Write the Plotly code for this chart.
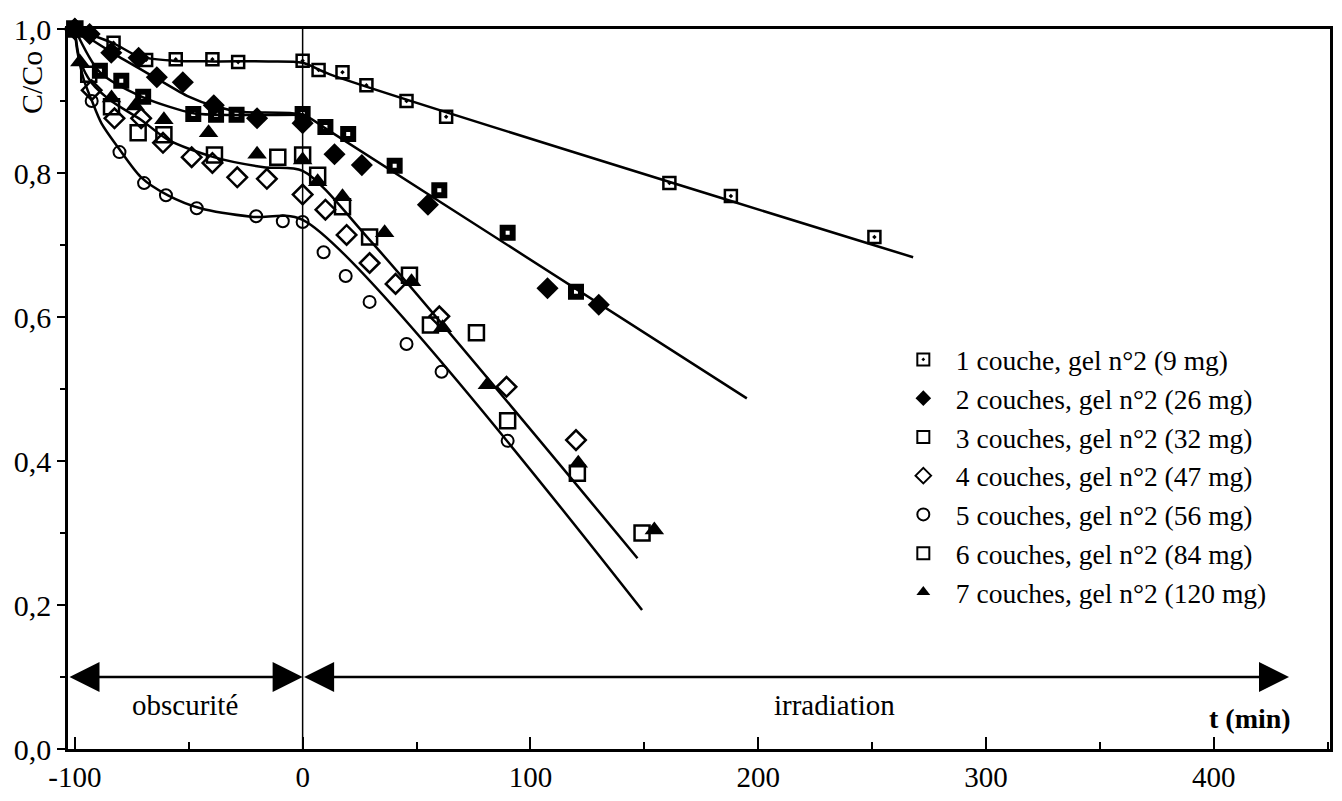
import plotly.graph_objects as go

# ---------------- data ----------------
s1_t = [-100, -83, -68.7, -55.7, -39.6, -28.3, 0, 7, 17.5, 28, 45.6, 63, 161, 188, 251]
s1_c = [1.0, 0.981, 0.957, 0.958, 0.958, 0.954, 0.956, 0.943, 0.940, 0.922, 0.900, 0.878, 0.786, 0.768, 0.711]

s2_t = [-100, -93.5, -84, -72, -64, -52.6, -39, -20, 0, 14, 26, 55, 107.5, 130]
s2_c = [1.0, 0.993, 0.967, 0.960, 0.933, 0.926, 0.894, 0.876, 0.869, 0.826, 0.811, 0.756, 0.640, 0.617]

s3_t = [-100, -89, -79.6, -70, -48, -38, -29, 0, 10, 20, 40.4, 60, 90, 120]
s3_c = [1.0, 0.942, 0.928, 0.906, 0.882, 0.881, 0.881, 0.882, 0.864, 0.854, 0.810, 0.776, 0.717, 0.635]

s4_t = [-100, -92.6, -82.6, -70.9, -61.3, -48.7, -39.6, -28.7, -15.7, 0, 10, 19.3, 29.4, 40.8, 60, 89.5, 120]
s4_c = [1.0, 0.915, 0.876, 0.876, 0.842, 0.822, 0.814, 0.794, 0.792, 0.770, 0.749, 0.714, 0.675, 0.646, 0.601, 0.503, 0.429]

s5_t = [-100, -92.6, -80.4, -69.6, -60, -46.5, -20.4, -8.7, 0, 9.2, 18.9, 29.4, 45.6, 61, 90]
s5_c = [1.0, 0.900, 0.829, 0.786, 0.769, 0.751, 0.740, 0.733, 0.732, 0.690, 0.657, 0.621, 0.5625, 0.524, 0.428]

s6_t = [-100, -93.9, -83.9, -72.2, -60.9, -38.7, -10.9, 0, 6.6, 17.5, 29.4, 46.9, 56.1, 76.3, 90, 120.6, 149]
s6_c = [1.0, 0.937, 0.892, 0.856, 0.853, 0.825, 0.822, 0.825, 0.797, 0.753, 0.711, 0.658, 0.589, 0.578, 0.456, 0.383, 0.300]

s7_t = [-100, -97.8, -83.9, -73.5, -60.9, -41.3, -20, 0, 6.6, 17.5, 36, 47.8, 61.4, 81.1, 121, 154.4]
s7_c = [1.0, 0.954, 0.904, 0.893, 0.874, 0.856, 0.826, 0.818, 0.788, 0.767, 0.717, 0.649, 0.585, 0.506, 0.397, 0.304]

# fitted curves (knots)
fitA_t = [-100, -83, -72, -57, -39, -15, 0, 12, 268]
fitA_c = [1.0, 0.980, 0.962, 0.956, 0.955, 0.955, 0.953, 0.937, 0.683]

fitB_t = [-100, -82, -65, -50, -39, -27, 0, 10, 195]
fitB_c = [1.0, 0.964, 0.933, 0.906, 0.893, 0.885, 0.881, 0.862, 0.487]

fitC_t = [-100, -89, -70, -48, -38, 0]
fitC_c = [1.0, 0.940, 0.905, 0.883, 0.881, 0.881]

fitD_t = [-100, -97.8, -92.6, -84, -71, -59, -39, -17, 0, 30, 147]
fitD_c = [1.0, 0.957, 0.925, 0.900, 0.874, 0.846, 0.822, 0.808, 0.803, 0.705, 0.265]

fitE_t = [-100, -99, -96, -92.6, -88.3, -80.9, -70.9, -59.1, -44.8, -21.7, 0, 149]
fitE_c = [1.0, 0.971, 0.929, 0.901, 0.869, 0.835, 0.794, 0.769, 0.751, 0.739, 0.735, 0.193]

labels = [
    "1 couche, gel n°2 (9 mg)",
    "2 couches, gel n°2 (26 mg)",
    "3 couches, gel n°2 (32 mg)",
    "4 couches, gel n°2 (47 mg)",
    "5 couches, gel n°2 (56 mg)",
    "6 couches, gel n°2 (84 mg)",
    "7 couches, gel n°2 (120 mg)",
]

x_ticks = [-100, 0, 100, 200, 300, 400]
y_ticks = [0.0, 0.2, 0.4, 0.6, 0.8, 1.0]

# ---------------- figure ----------------
FONT = "Liberation Serif, Times New Roman, serif"
fig = go.Figure()

for ft, fc in [(fitA_t, fitA_c), (fitB_t, fitB_c), (fitC_t, fitC_c), (fitD_t, fitD_c), (fitE_t, fitE_c)]:
    fig.add_trace(go.Scatter(x=ft, y=fc, mode="lines", showlegend=False, hoverinfo="skip",
                             line=dict(color="black", width=2.5, shape="spline", smoothing=0.8),
                             cliponaxis=False))

series = [
    (s1_t, s1_c, dict(symbol="square-open-dot", size=12, color="black", line=dict(color="black", width=2.5))),
    (s2_t, s2_c, dict(symbol="diamond", size=17, color="black", line=dict(color="black", width=0))),
    (s3_t, s3_c, dict(symbol="square-open", size=10, color="black", line=dict(color="black", width=6))),
    (s4_t, s4_c, dict(symbol="diamond-open", size=15, color="black", line=dict(color="black", width=2.5))),
    (s5_t, s5_c, dict(symbol="circle-open", size=12, color="black", line=dict(color="black", width=2))),
    (s6_t, s6_c, dict(symbol="square-open", size=15, color="black", line=dict(color="black", width=2.5))),
    (s7_t, s7_c, dict(symbol="triangle-up", size=17, color="black", line=dict(color="black", width=0))),
]
for (t, c, mk), name in zip(series, labels):
    fig.add_trace(go.Scatter(x=t, y=c, mode="markers", name=name, marker=mk, cliponaxis=False))

# vertical line at t = 0
fig.add_shape(type="line", x0=0, x1=0, y0=0, y1=1, xref="x", yref="paper",
              line=dict(color="black", width=1.5))

# arrows (obscurité / irradiation)
arrow_common = dict(xref="x", yref="y", axref="x", ayref="y", text="", showarrow=True,
                    arrowhead=2, startarrowhead=2, arrowside="end+start",
                    arrowwidth=2.5, arrowsize=2.4, startarrowsize=2.4, arrowcolor="black",
                    standoff=0, startstandoff=0)
fig.add_annotation(x=0, y=0.1, ax=-103, ay=0.1, **arrow_common)
fig.add_annotation(x=433, y=0.1, ax=0, ay=0.1, **arrow_common)

fig.add_annotation(x=-51.8, y=0.061, xref="x", yref="y", text="obscurité", showarrow=False,
                   font=dict(family=FONT, size=29, color="black"))
fig.add_annotation(x=233.5, y=0.061, xref="x", yref="y", text="irradiation", showarrow=False,
                   font=dict(family=FONT, size=29, color="black"))
fig.add_annotation(x=415.7, y=0.043, xref="x", yref="y", text="<b>t (min)</b>", showarrow=False,
                   font=dict(family=FONT, size=28, color="black"))
fig.add_annotation(x=-0.0285, y=0.925, xref="paper", yref="paper", text="C/Co", showarrow=False,
                   xanchor="center", yanchor="middle",
                   textangle=-90, font=dict(family=FONT, size=30, color="black"))

# the page body adds an 8 px offset: size and margins compensate so the plot
# area spans x 68..1330 and y 29..749 in the screenshot
fig.update_layout(
    width=1326, height=785,
    margin=dict(l=60, r=4, t=21, b=44, autoexpand=False),
    paper_bgcolor="white", plot_bgcolor="white",
    separators=",.",
    font=dict(family=FONT, size=28, color="black"),
    showlegend=True,
    legend=dict(x=0.652, y=0.575, xanchor="left", yanchor="top",
                font=dict(family=FONT, size=27.5, color="black"),
                bgcolor="rgba(0,0,0,0)", itemwidth=55, itemsizing="constant",
                tracegroupgap=0),
    xaxis=dict(range=[-103, 451], tickvals=x_ticks, ticktext=[str(v) for v in x_ticks],
               automargin=False,
               showgrid=False, zeroline=False, showline=True, linecolor="black", linewidth=2.5,
               mirror=True, ticks="inside", ticklen=12, tickwidth=2, tickcolor="black",
               ticklabelstandoff=0,
               minor=dict(dtick=50, tick0=0, ticks="inside", ticklen=7, tickwidth=1.5, tickcolor="black"),
               tickfont=dict(family=FONT, size=29, color="black")),
    yaxis=dict(range=[0, 1.0], tickvals=y_ticks, tickformat=".1f",
               automargin=False,
               showgrid=False, zeroline=False, showline=True, linecolor="black", linewidth=2.5,
               mirror=True, ticks="outside", ticklen=8, tickwidth=2, tickcolor="black",
               minor=dict(dtick=0.1, tick0=0, ticks="outside", ticklen=5, tickwidth=1.5, tickcolor="black"),
               tickfont=dict(family=FONT, size=30, color="black")),
)

fig.write_html("out.html")
